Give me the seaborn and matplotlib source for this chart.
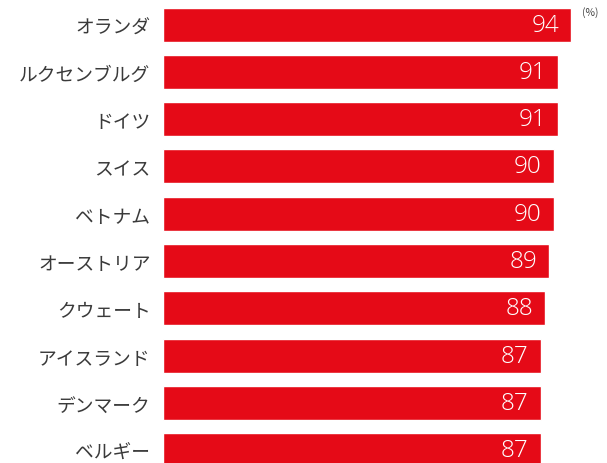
import matplotlib
matplotlib.use("Agg")
import matplotlib.pyplot as plt
import seaborn as sns
import pandas as pd

# Share of respondents by country (%)
countries = ["オランダ", "ルクセンブルグ", "ドイツ", "スイス", "ベトナム",
             "オーストリア", "クウェート", "アイスランド", "デンマーク", "ベルギー"]
values = [94, 91, 91, 90, 90, 89, 88, 87, 87, 87]
unit_label = "(%)"

sns.set_theme(style="white")
plt.rcParams["font.family"] = ["Noto Sans CJK JP", "DejaVu Sans"]

df = pd.DataFrame({"country": countries, "value": values})
bar_red = "#e50a17"

fig = plt.figure(figsize=(6.07, 4.64), dpi=100)
ax = fig.add_axes([163 / 607, 0, 444 / 607, 1])

sns.barplot(data=df, x="value", y="country", color=bar_red, saturation=1,
            width=0.72, orient="h", ax=ax)

ax.set_xlim(0, 102.3)
ax.set_ylim(9.27, -0.54)

for i, v in enumerate(values):
    ax.annotate(str(v), xy=(v, i), xytext=(-8.5, 0), textcoords="offset points",
                ha="right", va="center", color="white", fontsize=17.5,
                family=["Open Sans", "DejaVu Sans"], fontweight="light")

ax.annotate(unit_label, xy=(values[0], 0), xytext=(8, 9), textcoords="offset points",
            ha="left", va="center", color="#444444", fontsize=7.5)

ax.set_xlabel("")
ax.set_ylabel("")
ax.set_xticks([])
ax.tick_params(axis="y", length=0, pad=9, labelsize=13.5, labelcolor="#3a3a3a")
for s in ax.spines.values():
    s.set_visible(False)

fig.savefig("out.png", dpi=100)
